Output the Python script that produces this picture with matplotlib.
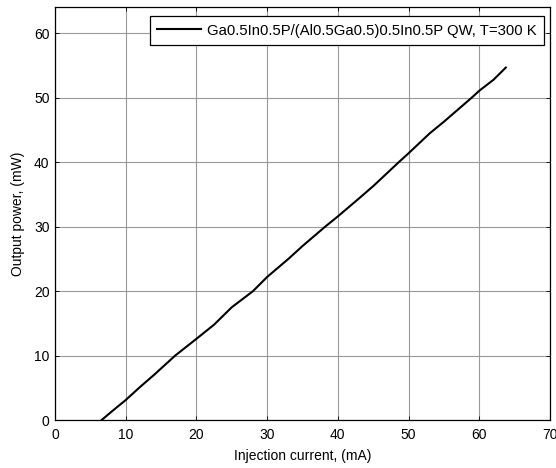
import numpy as np
import matplotlib
matplotlib.use("Agg")
import matplotlib.pyplot as plt

plt.rcParams['font.family'] = ['Liberation Sans', 'DejaVu Sans']

# Curve: injection current (mA) vs output power (mW)
current_mA = [6.6, 8.0, 10.0, 12.0, 14.0, 17.0, 20.0, 22.5, 25.0, 28.0, 30.0,
              33.0, 35.0, 38.2, 40.0, 43.0, 45.0, 48.6, 50.0, 53.0, 55.0,
              58.9, 60.0, 62.0, 63.75]
power_mW = [0.0, 1.3, 3.1, 5.1, 7.0, 10.0, 12.6, 14.8, 17.5, 20.0, 22.2,
            25.0, 27.0, 30.0, 31.6, 34.4, 36.3, 40.0, 41.4, 44.5, 46.3,
            50.0, 51.1, 52.8, 54.7]

x_ticks = [0, 10, 20, 30, 40, 50, 60, 70]
y_ticks = [0, 10, 20, 30, 40, 50, 60]
legend_label = "Ga0.5In0.5P/(Al0.5Ga0.5)0.5In0.5P QW, T=300 K"

fig = plt.figure(figsize=(5.56, 4.68), dpi=100)
ax = fig.add_axes([55 / 556, 48 / 468, 495 / 556, 413 / 468])

ax.plot(current_mA, power_mW, color="black", linewidth=1.5, label=legend_label)

ax.set_xlim(0, 70)
ax.set_ylim(0, 64.1)
ax.set_xticks(x_ticks)
ax.set_yticks(y_ticks)
ax.tick_params(direction="in", length=3, width=0.6, top=True, right=True,
               labelsize=10, colors="black")
ax.tick_params(axis="x", pad=6)
ax.tick_params(axis="y", pad=4)
ax.grid(True, color="#9a9a9a", linewidth=0.8, linestyle="-")
ax.set_axisbelow(True)
for sp in ax.spines.values():
    sp.set_linewidth(0.9)
    sp.set_color("black")

ax.set_xlabel("Injection current, (mA)", fontsize=10, labelpad=5)
ax.set_ylabel("Output power, (mW)", fontsize=10, labelpad=6)

leg = ax.legend(loc="upper right", bbox_to_anchor=(0.988, 0.978),
                borderaxespad=0, fancybox=False, fontsize=10.7,
                handlelength=2.95, handletextpad=0.4, framealpha=1,
                borderpad=0.5)
leg.get_frame().set_edgecolor("black")
leg.get_frame().set_linewidth(0.9)

fig.savefig("out.png", dpi=100)
